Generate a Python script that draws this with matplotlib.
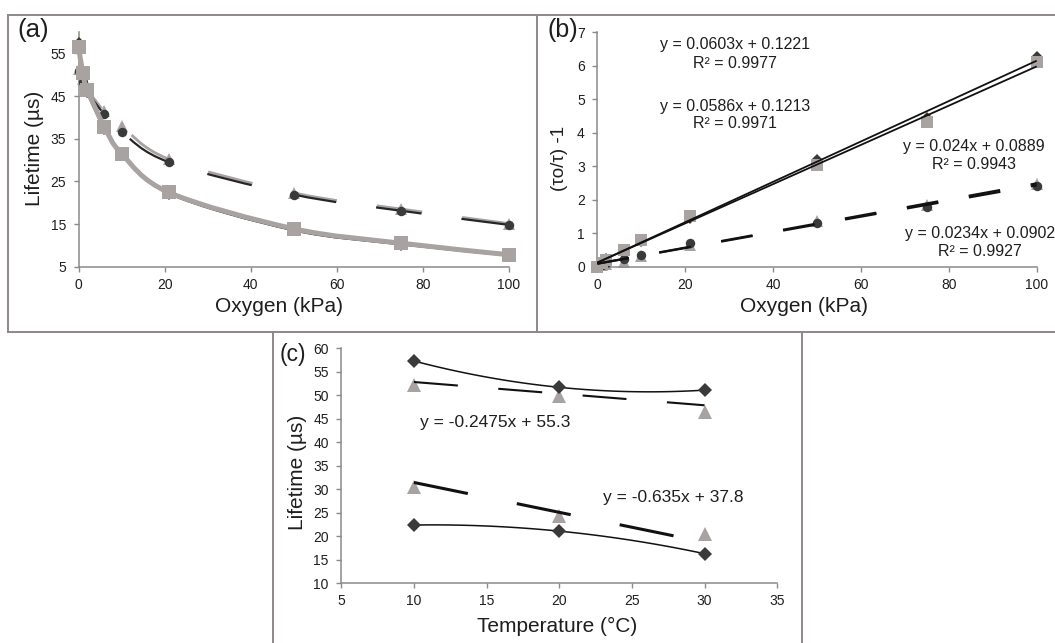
import numpy as np
import matplotlib

matplotlib.use("Agg")
import matplotlib.pyplot as plt
from matplotlib.lines import Line2D
from matplotlib.patches import PathPatch
from matplotlib.path import Path

plt.rcParams["font.family"] = ["Liberation Sans", "DejaVu Sans"]

W, H = 1055, 643

# (a) lifetime vs oxygen partial pressure
oxygen_kpa = [0, 1, 2, 6, 10, 21, 50, 75, 100]
life_square = [56.5, 50.5, 46.5, 37.8, 31.5, 22.4, 13.9, 10.5, 7.8]
life_diamond = [57.5, 50.8, 46.0, 37.3, 31.6, 22.1, 13.5, 10.2, 7.6]
life_circle = [50.8, 48.4, 46.0, 40.7, 36.6, 29.5, 21.9, 18.1, 14.8]
life_triangle = [51.3, 48.9, 46.6, 41.4, 38.0, 30.2, 22.3, 18.5, 15.1]

# (b) Stern-Volmer plot, (tau0/tau) - 1
sv_square = [0.0, 0.12, 0.21, 0.50, 0.80, 1.52, 3.05, 4.33, 6.12]
sv_diamond = [0.0, 0.10, 0.22, 0.47, 0.78, 1.45, 3.20, 4.45, 6.25]
sv_circle = [0.0, 0.05, 0.10, 0.23, 0.36, 0.72, 1.31, 1.77, 2.42]
sv_triangle = [0.0, 0.04, 0.08, 0.13, 0.33, 0.66, 1.36, 1.84, 2.48]
sv_slopes = [0.0603, 0.0586, 0.024, 0.0234]
sv_intercepts = [0.1221, 0.1213, 0.0889, 0.0902]
sv_r2 = [0.9977, 0.9971, 0.9943, 0.9927]

# (c) lifetime vs temperature
temp_c = [10, 20, 30]
temp_diamond_hi = [57.3, 51.7, 51.1]
temp_triangle_hi = [52.1, 49.8, 46.4]
temp_triangle_lo = [30.5, 24.4, 20.4]
temp_diamond_lo = [22.4, 21.1, 16.3]
temp_slopes = [-0.2475, -0.635]
temp_intercepts = [55.3, 37.8]

DARK = "#3a3a3a"
GRAY = "#a8a3a1"
AXIS = "#8a8a8a"
FRAME = "#8e8888"
INK = "#1e1e1e"


def rect(x0, y0, x1, y1):
    return [x0 / W, 1 - y1 / H, (x1 - x0) / W, (y1 - y0) / H]


def ftext(x, y, s, **kw):
    kw.setdefault("ha", "center")
    kw.setdefault("va", "center")
    kw.setdefault("color", INK)
    fig.text(x / W, 1 - y / H, s, **kw)


def frame_line(x0, y0, x1, y1, lw=1.4):
    fig.add_artist(Line2D([x0 / W, x1 / W], [1 - y0 / H, 1 - y1 / H],
                          transform=fig.transFigure, color=FRAME, lw=lw))


def style_axes(ax):
    for side in ("top", "right"):
        ax.spines[side].set_visible(False)
    for side in ("left", "bottom"):
        ax.spines[side].set_color(AXIS)
        ax.spines[side].set_linewidth(1.1)
    ax.tick_params(direction="out", length=3.5, width=1.0, color=AXIS,
                   labelsize=10, labelcolor=INK)
    ax.tick_params(axis="y", pad=5.5)
    ax.tick_params(axis="x", pad=4.5)
    ax.set_facecolor("none")


def smooth_path(x, y):
    # Catmull-Rom through the points, written as cubic Bezier segments
    pts = np.column_stack([x, y]).astype(float)
    verts = [pts[0]]
    codes = [Path.MOVETO]
    n = len(pts)
    for i in range(n - 1):
        p0 = pts[i - 1] if i > 0 else pts[i]
        p1, p2 = pts[i], pts[i + 1]
        p3 = pts[i + 2] if i + 2 < n else pts[i + 1]
        verts += [p1 + (p2 - p0) / 6, p2 - (p3 - p1) / 6, p2]
        codes += [Path.CURVE4] * 3
    return Path(verts, codes)


def smooth_line(ax, x, y, color, lw, dash=None, z=2):
    ls = "-" if dash is None else (0, (dash[0] / lw, dash[1] / lw))
    patch = PathPatch(smooth_path(x, y), fill=False, edgecolor=color, lw=lw,
                      linestyle=ls, capstyle="butt", joinstyle="round",
                      zorder=z, clip_on=False)
    ax.add_patch(patch)


def dots(ax, x, y, marker, color, ms, z=3):
    ax.plot(x, y, linestyle="none", marker=marker, color=color, ms=ms,
            mec=color, mew=0, zorder=z, clip_on=False)


fig = plt.figure(figsize=(W / 100, H / 100), dpi=100)

# panel frames
frame_line(8, 15, 1055, 15)
frame_line(8, 332, 1055, 332)
frame_line(8, 15, 8, 332)
frame_line(537, 15, 537, 332)
frame_line(273, 332, 273, 643)
frame_line(802, 332, 802, 643)

# ---- (a) ----
ax_a = fig.add_axes(rect(78.5, 32, 509, 266.7))
style_axes(ax_a)
ax_a.set_xlim(0, 100)
ax_a.set_ylim(5, 60)
ax_a.set_xticks(range(0, 101, 20))
ax_a.set_yticks(range(5, 56, 10))

dash_a = (33, 29)
smooth_line(ax_a, oxygen_kpa, life_triangle, GRAY, 2.0, dash_a, z=2)
dots(ax_a, oxygen_kpa, life_triangle, "^", GRAY, 8, z=3)
smooth_line(ax_a, oxygen_kpa, life_circle, "#262626", 1.6, dash_a, z=4)
dots(ax_a, oxygen_kpa, life_circle, "o", DARK, 6.8, z=5)
smooth_line(ax_a, oxygen_kpa, life_diamond, "#1a1a1a", 1.4, z=6)
dots(ax_a, oxygen_kpa, life_diamond, "D", DARK, 6, z=7)
smooth_line(ax_a, oxygen_kpa, life_square, GRAY, 3.6, z=8)
dots(ax_a, oxygen_kpa, life_square, "s", GRAY, 9.4, z=9)

ftext(33.6, 30, "(a)", fontsize=18.5)
ftext(279, 306.7, "Oxygen (kPa)", fontsize=15)
ftext(34.4, 148.3, "Lifetime (µs)", fontsize=15, rotation=90)

# ---- (b) ----
ax_b = fig.add_axes(rect(597.3, 32.3, 1036.7, 266.7))
style_axes(ax_b)
ax_b.set_xlim(0, 100)
ax_b.set_ylim(0, 7)
ax_b.set_xticks(range(0, 101, 20))
ax_b.set_yticks(range(0, 8))

dots(ax_b, oxygen_kpa, sv_triangle, "^", GRAY, 8.7, z=2)
dots(ax_b, oxygen_kpa, sv_circle, "o", DARK, 6.8, z=3)
dots(ax_b, oxygen_kpa, sv_diamond, "D", DARK, 6, z=3)
dots(ax_b, oxygen_kpa, sv_square, "s", GRAY, 9, z=4)

fit_x = np.array([0, 100])
for k, (m, b) in enumerate(zip(sv_slopes, sv_intercepts)):
    if k < 2:
        ax_b.plot(fit_x, m * fit_x + b, color="#111111", lw=1.3, zorder=5,
                  solid_capstyle="butt", clip_on=False)
    else:
        lw = 1.6
        ax_b.plot(fit_x, m * fit_x + b, color="#111111", lw=lw, zorder=5,
                  linestyle=(0, (23 / lw, 22.3 / lw)), dash_capstyle="butt",
                  clip_on=False)

eq_pos = [(735, 45), (735, 106), (974, 146.7), (980, 233.3)]
for (ex, ey), m, b, r2 in zip(eq_pos, sv_slopes, sv_intercepts, sv_r2):
    ftext(ex, ey, f"y = {m}x + {b}", fontsize=11.5)
    ftext(ex, ey + 18, f"R² = {r2}", fontsize=11.5)

ftext(562.5, 30, "(b)", fontsize=18)
ftext(803.7, 306.7, "Oxygen (kPa)", fontsize=15)
ftext(560, 158, "(τo/τ) -1", fontsize=13.5, rotation=90)

# ---- (c) ----
ax_c = fig.add_axes(rect(341.3, 348.3, 777.2, 583.3))
style_axes(ax_c)
ax_c.set_xlim(5, 35)
ax_c.set_ylim(10, 60)
ax_c.set_xticks(range(5, 36, 5))
ax_c.set_yticks(range(10, 61, 5))

t_fine = np.linspace(temp_c[0], temp_c[-1], 60)
for series in (temp_diamond_hi, temp_diamond_lo):
    coef = np.polyfit(temp_c, series, 2)
    ax_c.plot(t_fine, np.polyval(coef, t_fine), color="#111111", lw=1.1,
              zorder=2)
    dots(ax_c, temp_c, series, "D", DARK, 7, z=4)

dots(ax_c, temp_c, temp_triangle_hi, "^", GRAY, 10, z=3)
dots(ax_c, temp_c, temp_triangle_lo, "^", GRAY, 10, z=3)

t_line = np.array([temp_c[0], temp_c[-1]])
for (m, b), lw, dash in zip(zip(temp_slopes, temp_intercepts),
                            (1.5, 2.2), ((31.7, 29.2), (39.6, 36.0))):
    ax_c.plot(t_line, m * t_line + b, color="#111111", lw=lw, zorder=5,
              linestyle=(0, (dash[0] / lw, dash[1] / lw)),
              dash_capstyle="butt")

ftext(494.7, 422.3, f"y = {temp_slopes[0]}x + {temp_intercepts[0]}",
      fontsize=12.5)
ftext(672.9, 497.7, f"y = {temp_slopes[1]}x + {temp_intercepts[1]}",
      fontsize=12.5)

ftext(293, 354, "(c)", fontsize=16.5)
ftext(556.7, 626.7, "Temperature (°C)", fontsize=15)
ftext(297.5, 472.5, "Lifetime (µs)", fontsize=15, rotation=90)

fig.savefig("out.png", dpi=100, facecolor="white")
